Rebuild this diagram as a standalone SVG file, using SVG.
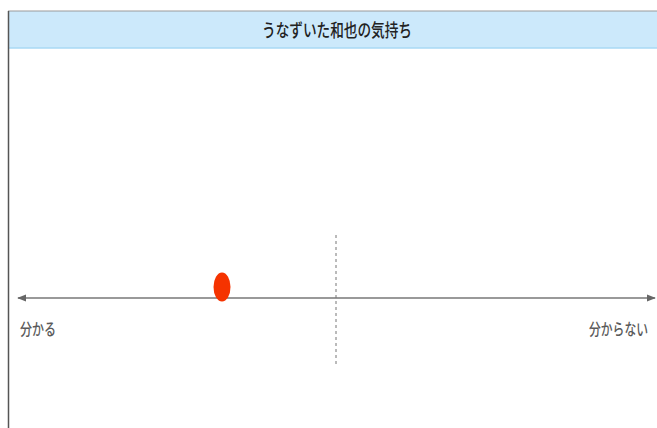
<svg xmlns="http://www.w3.org/2000/svg" width="657" height="428" viewBox="0 0 657 428">
<style>
.lbl{font-family:"Noto Sans CJK JP","Noto Sans",sans-serif;font-size:16px;fill:#5a5a5a;font-weight:500}
.title{font-family:"Noto Sans CJK JP","Noto Sans",sans-serif;font-size:18px;fill:#222;font-weight:500}
</style>
<defs>
<marker id="ah" viewBox="0 0 10 10" refX="9" refY="5" markerWidth="6" markerHeight="6" orient="auto-start-reverse">
<path d="M0,1 L10,5 L0,9 Z" fill="#666"/>
</marker>
</defs>
<rect width="657" height="428" fill="#fff"/>
<g id="frame">
<rect x="8" y="11" width="660" height="37" fill="#cce9fb"/>
<line x1="8" y1="48" x2="657" y2="48" stroke="#a9d8f5" stroke-width="1.5"/>
<line x1="8" y1="11" x2="657" y2="11" stroke="#9a9a9a" stroke-width="1"/>
<line x1="8.5" y1="11" x2="8.5" y2="428" stroke="#555" stroke-width="1.5"/>
<text class="title" x="262" y="37" textLength="150" lengthAdjust="spacingAndGlyphs">うなずいた和也の気持ち</text>
</g>
<g id="connectors">
<line x1="18" y1="298" x2="655" y2="298" stroke="#777" stroke-width="1.5" marker-start="url(#ah)" marker-end="url(#ah)"/>
<line x1="336" y1="235" x2="336" y2="365" stroke="#777" stroke-width="1" stroke-dasharray="3,3"/>
</g>
<g id="marker-dot">
<ellipse cx="222" cy="287" rx="8.5" ry="14.5" fill="#f53300"/>
</g>
<g id="label-left">
<text class="lbl" x="20" y="335" textLength="36" lengthAdjust="spacingAndGlyphs">分かる</text>
</g>
<g id="label-right">
<text class="lbl" x="589" y="335" textLength="59" lengthAdjust="spacingAndGlyphs">分からない</text>
</g>
</svg>
